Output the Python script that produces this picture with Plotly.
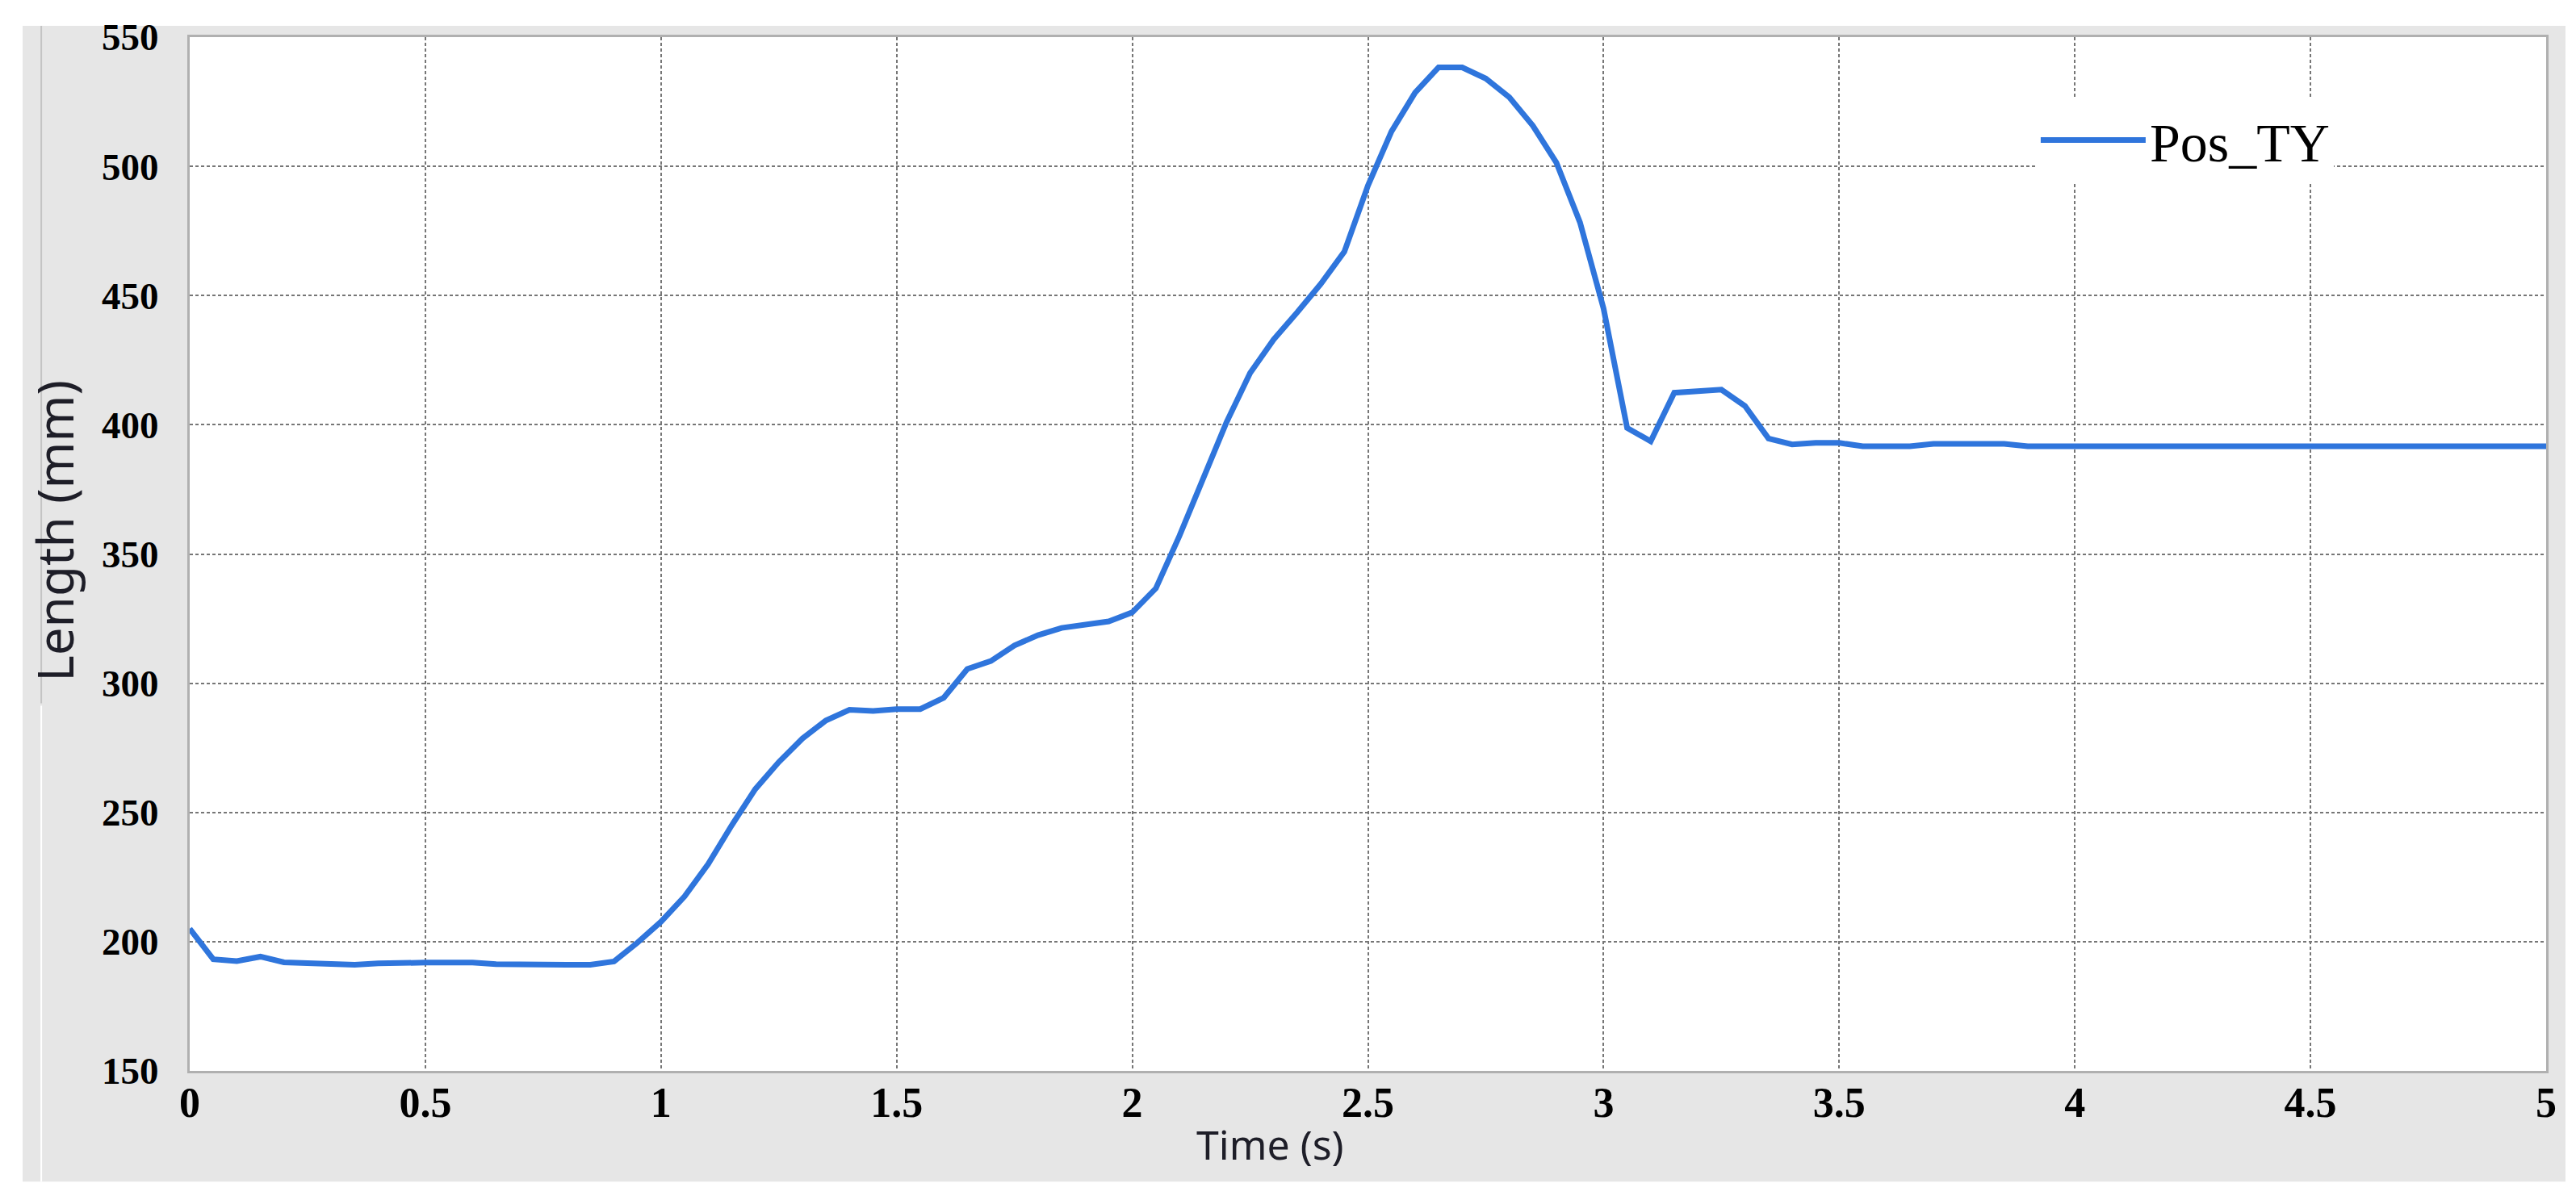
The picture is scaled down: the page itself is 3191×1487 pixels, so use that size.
import plotly.graph_objects as go

# ─────────────────────────────────────────────────────────────────────────────
# Data (read off the reference, sampled every 0.05 s)
# ─────────────────────────────────────────────────────────────────────────────
time_s = [
    0.00, 0.05, 0.10, 0.15, 0.20, 0.25, 0.30, 0.35, 0.40, 0.45,
    0.50, 0.55, 0.60, 0.65, 0.70, 0.75, 0.80, 0.85, 0.90, 0.95,
    1.00, 1.05, 1.10, 1.15, 1.20, 1.25, 1.30, 1.35, 1.40, 1.45,
    1.50, 1.55, 1.60, 1.65, 1.70, 1.75, 1.80, 1.85, 1.90, 1.95,
    2.00, 2.05, 2.10, 2.15, 2.20, 2.25, 2.30, 2.35, 2.40, 2.45,
    2.50, 2.55, 2.60, 2.65, 2.70, 2.75, 2.80, 2.85, 2.90, 2.95,
    3.00, 3.05, 3.10, 3.15, 3.20, 3.25, 3.30, 3.35, 3.40, 3.45,
    3.50, 3.55, 3.60, 3.65, 3.70, 3.75, 3.80, 3.85, 3.90, 3.95,
    4.00, 4.05, 4.10, 4.15, 4.20, 4.25, 4.30, 4.35, 4.40, 4.45,
    4.50, 4.55, 4.60, 4.65, 4.70, 4.75, 4.80, 4.85, 4.90, 4.95,
    5.00,
]

pos_ty = [
    205.0, 193.2, 192.5, 194.2, 192.0, 191.8, 191.3, 191.1, 191.6, 191.9,
    191.9, 191.9, 191.9, 191.3, 191.1, 191.1, 191.1, 191.1, 192.3, 199.6,
    207.7, 217.5, 230.0, 245.0, 259.0, 269.5, 278.6, 285.6, 289.7, 289.3,
    290.0, 290.0, 294.4, 305.5, 308.6, 314.6, 318.6, 321.4, 322.8, 323.9,
    327.4, 336.7, 357.0, 379.0, 401.0, 420.0, 433.0, 443.5, 454.5, 467.0,
    492.5, 513.5, 528.5, 538.3, 538.3, 534.0, 526.7, 515.7, 501.4, 478.3,
    445.0, 398.8, 393.6, 412.4, 413.0, 413.6, 407.3, 394.7, 392.4, 393.0,
    393.0, 391.7, 391.7, 391.7, 392.6, 392.6, 392.6, 392.6, 391.7, 391.7,
    391.7, 391.7, 391.7, 391.7, 391.7, 391.7, 391.7, 391.7, 391.7, 391.7,
    391.7, 391.7, 391.7, 391.7, 391.7, 391.7, 391.7, 391.7, 391.7, 391.7,
    391.7,
]

x_ticks = [0, 0.5, 1, 1.5, 2, 2.5, 3, 3.5, 4, 4.5, 5]
y_ticks = [150, 200, 250, 300, 350, 400, 450, 500, 550]

SERIF = "Liberation Serif, Times New Roman, serif"
SANS = "Noto Sans, Open Sans, sans-serif"
GRID = "#767676"

fig = go.Figure()
fig.add_trace(
    go.Scatter(
        x=time_s,
        y=pos_ty,
        mode="lines",
        name="Pos_TY",
        line=dict(color="#2f75dc", width=7),
    )
)

axis_common = dict(
    showgrid=True,
    gridcolor=GRID,
    gridwidth=2,
    griddash="4px,3px",
    zeroline=False,
    showline=True,
    linecolor="#b0b0b0",
    linewidth=3,
    mirror=True,
)

fig.update_xaxes(
    range=[0, 5],
    tickvals=x_ticks,
    ticks="",
    ticklabelstandoff=-8,
    tickfont=dict(family=SERIF, size=52, color="black", weight="bold"),
    **axis_common,
)
fig.update_yaxes(
    range=[150, 550],
    tickvals=y_ticks,
    ticks="outside",
    ticklen=26,
    tickcolor="rgba(0,0,0,0)",
    tickfont=dict(family=SERIF, size=47, color="black", weight="bold"),
    **axis_common,
)

# grey window frame behind everything, white plotting area on top of it
fig.add_shape(type="rect", xref="paper", yref="paper",
              x0=-0.0709, x1=1.0082, y0=-0.1071, y1=1.0109,
              fillcolor="#e6e6e6", line_width=0, layer="below")
fig.add_shape(type="rect", xref="paper", yref="paper",
              x0=0, x1=1, y0=0, y1=1,
              fillcolor="white", line_width=0, layer="below")
fig.add_shape(type="line", xref="paper", yref="paper",
              x0=-0.0630, x1=-0.0630, y0=0.3556, y1=1.0109,
              line=dict(color="#c4c4c4", width=2), layer="below")
fig.add_shape(type="line", xref="paper", yref="paper",
              x0=-0.0630, x1=-0.0630, y0=-0.1071, y1=0.3533,
              line=dict(color="white", width=2), layer="below")

# axis titles placed as in the reference
fig.add_annotation(text="Time (s)", xref="paper", yref="paper",
                   x=0.4584, y=-0.071, xanchor="center", yanchor="middle",
                   showarrow=False, font=dict(family=SANS, size=50, color="#1e1e28"))
fig.add_annotation(text="Length (mm)", xref="paper", yref="paper",
                   x=-0.0575, y=0.5225, xanchor="center", yanchor="middle",
                   textangle=-90, showarrow=False,
                   font=dict(family=SANS, size=62, color="#1e1e28"))

fig.update_layout(
    width=3191,
    height=1487,
    autosize=False,
    margin=dict(l=227, r=45, t=31, b=168),
    paper_bgcolor="white",
    plot_bgcolor="white",
    showlegend=True,
    legend=dict(
        x=0.7838, y=0.94, xanchor="left", yanchor="top",
        bgcolor="white", borderwidth=0,
        font=dict(family=SERIF, size=68, color="black"),
        itemwidth=130,
    ),
)

fig.write_html("out.html")
